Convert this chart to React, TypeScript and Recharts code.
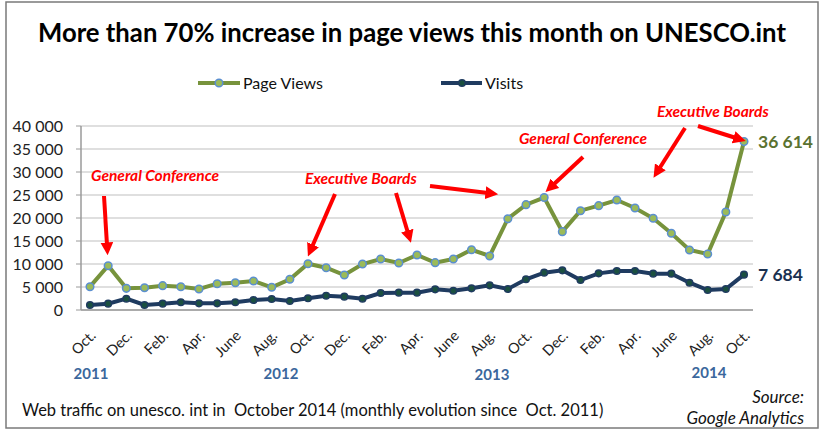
import React from 'react';
import { LineChart, Line, XAxis, YAxis, CartesianGrid, LabelList } from 'recharts';

const monthLabels = [
  'Oct.', 'Nov.', 'Dec.', 'Jan.', 'Feb.', 'Mar.', 'Apr.', 'May', 'June', 'July', 'Aug.', 'Sep.',
  'Oct.', 'Nov.', 'Dec.', 'Jan.', 'Feb.', 'Mar.', 'Apr.', 'May', 'June', 'July', 'Aug.', 'Sep.',
  'Oct.', 'Nov.', 'Dec.', 'Jan.', 'Feb.', 'Mar.', 'Apr.', 'May', 'June', 'July', 'Aug.', 'Sep.',
  'Oct.',
];

const pageViews = [
  5070, 9630, 4710, 4850, 5290, 5070, 4570, 5720, 5940, 6300, 4930, 6670,
  10070, 9200, 7610, 10000, 11090, 10220, 11960, 10290, 11090, 13100, 11740, 19850,
  22900, 24450, 17030, 21590, 22680, 23910, 22170, 19930, 16670, 13040, 12170, 21300,
  36614,
];

const visits = [
  1090, 1380, 2460, 1090, 1380, 1670, 1450, 1450, 1670, 2170, 2390, 1960,
  2540, 3110, 2900, 2460, 3700, 3770, 3770, 4490, 4200, 4710, 5360, 4565,
  6670, 8120, 8620, 6520, 7970, 8480, 8480, 7900, 7900, 5940, 4350, 4570,
  7684,
];

const yTicks = [0, 5000, 10000, 15000, 20000, 25000, 30000, 35000, 40000];
const boundaryTicks = Array.from({ length: monthLabels.length + 1 }, (_, i) => i);

const data = monthLabels.map((m, i) => ({
  label: i % 2 === 0 ? m : '',
  pageViews: pageViews[i],
  visits: visits[i],
}));

const FONT = "Lato, 'Noto Sans', sans-serif";
const OLIVE = '#77933c';
const NAVY = '#1f3b60';
const RED = '#ff0000';

const fmt = (v: number) => String(v).replace(/\B(?=(\d{3})+(?!\d))/g, ' ');

const XTick = (props: any) => {
  const { x, y, payload } = props;
  if (!payload || !payload.value) return null;
  const ax = x + 3;
  const ay = y + 15;
  return (
    <text
      x={ax}
      y={ay}
      transform={`rotate(-45 ${ax} ${ay})`}
      textAnchor="end"
      dy="0.35em"
      fontFamily={FONT}
      fontSize={14.5}
      fill="#222"
    >
      {payload.value}
    </text>
  );
};

const lastIdx = monthLabels.length - 1;

const EndLabel = (color: string) => (props: any) => {
  const { x, y, value, index } = props;
  if (index !== lastIdx) return null;
  return (
    <text x={x + 14} y={y} dy="0.35em" fontFamily={FONT} fontWeight={700} fontSize={17.5} fill={color}>
      {fmt(value)}
    </text>
  );
};

const arrows = [
  [104, 196, 107, 245],
  [335, 194, 312, 247],
  [396, 193, 408, 233],
  [430, 186, 488, 193],
  [583, 157, 553, 185],
  [685, 128, 659, 169],
  [698, 126, 736, 138],
];

export default function App() {
  return (
    <div style={{ position: 'absolute', left: 0, top: 0, width: 823, height: 429, background: '#fff' }}>
      <LineChart
        width={823}
        height={429}
        data={data}
        margin={{ top: 126, right: 70, bottom: 59, left: 0 }}
      >
        <CartesianGrid vertical={false} stroke="#d4d4d4" strokeWidth={1.5} />
        <XAxis
          xAxisId="grid"
          type="number"
          domain={[0, monthLabels.length]}
          ticks={boundaryTicks}
          tick={false}
          axisLine={false}
          tickLine={{ stroke: '#9a9a9a' }}
          tickSize={5}
          height={0}
        />
        <XAxis
          dataKey="label"
          interval={0}
          padding={{ left: 9, right: 9 }}
          tickLine={false}
          axisLine={{ stroke: '#9a9a9a', strokeWidth: 1.5 }}
          tick={<XTick />}
          height={60}
        />
        <YAxis
          width={81}
          domain={[0, 40000]}
          ticks={yTicks}
          tickFormatter={fmt}
          tickSize={5}
          tickMargin={13}
          axisLine={{ stroke: '#9a9a9a', strokeWidth: 1.5 }}
          tickLine={{ stroke: '#9a9a9a' }}
          tick={{ fontFamily: FONT, fontSize: 16, fill: '#222' }}
          interval={0}
        />
        <Line
          dataKey="pageViews"
          name="Page Views"
          stroke={OLIVE}
          strokeWidth={4}
          dot={{ r: 3.8, fill: '#9bbb59', stroke: '#5b8fd0', strokeWidth: 1.5 }}
          isAnimationActive={false}
        >
          <LabelList dataKey="pageViews" content={EndLabel('#5a7230')} />
        </Line>
        <Line
          dataKey="visits"
          name="Visits"
          stroke={NAVY}
          strokeWidth={4}
          dot={{ r: 3.3, fill: '#1b5040', stroke: NAVY, strokeWidth: 1.5 }}
          isAnimationActive={false}
        >
          <LabelList dataKey="visits" content={EndLabel('#1a3050')} />
        </Line>
      </LineChart>
      <svg
        width={823}
        height={429}
        style={{ position: 'absolute', left: 0, top: 0, pointerEvents: 'none' }}
      >
        <defs>
          <marker id="ah" viewBox="0 0 10 10" refX="2" refY="5" markerWidth="3.2" markerHeight="3.2" orient="auto">
            <path d="M0,0 L10,5 L0,10 z" fill={RED} />
          </marker>
        </defs>
        <rect x={6} y={2} width={812} height={426} fill="none" stroke="#7a7a7a" strokeWidth={1.5} />
        <text x={412} y={33} dy="0.35em" textAnchor="middle" fontFamily={FONT} fontWeight={700} fontSize={25.7} fill="#000">
          More than 70% increase in page views this month on UNESCO.int
        </text>
        <g>
          <line x1={198} y1={83} x2={240} y2={83} stroke={OLIVE} strokeWidth={4} />
          <circle cx={219} cy={83} r={3.8} fill="#9bbb59" stroke="#5b8fd0" strokeWidth={1.5} />
          <text x={243} y={83} dy="0.35em" fontFamily={FONT} fontSize={16} fill="#111">Page Views</text>
          <line x1={441} y1={83} x2={482} y2={83} stroke={NAVY} strokeWidth={4} />
          <circle cx={462} cy={83} r={3.3} fill="#1b5040" stroke={NAVY} strokeWidth={1.5} />
          <text x={485} y={83} dy="0.35em" fontFamily={FONT} fontSize={16} fill="#111">Visits</text>
        </g>
        {arrows.map((a, i) => (
          <line key={i} x1={a[0]} y1={a[1]} x2={a[2]} y2={a[3]} stroke={RED} strokeWidth={4} markerEnd="url(#ah)" />
        ))}
        <g fontFamily={FONT} fontWeight={700} fontStyle="italic" fontSize={15.5} fill={RED}>
          <text x={91} y={176} dy="0.35em">General Conference</text>
          <text x={305} y={179} dy="0.35em">Executive Boards</text>
          <text x={647} y={139} dy="0.35em" textAnchor="end">General Conference</text>
          <text x={657} y={112} dy="0.35em">Executive Boards</text>
        </g>
        <g fontFamily={FONT} fontWeight={700} fontSize={15} fill="#3b679c" textAnchor="middle">
          <text x={91} y={374} dy="0.35em">2011</text>
          <text x={281} y={374} dy="0.35em">2012</text>
          <text x={492} y={375} dy="0.35em">2013</text>
          <text x={709} y={373} dy="0.35em">2014</text>
        </g>
        <text x={22} y={410} dy="0.35em" fontFamily={FONT} fontSize={16.5} fill="#111" style={{ whiteSpace: 'pre' }}>
          {'Web traffic on unesco. int in  October 2014 (monthly evolution since  Oct. 2011)'}
        </text>
        <g fontFamily={FONT} fontStyle="italic" fontSize={17} fill="#111" textAnchor="end">
          <text x={804} y={397} dy="0.35em">Source:</text>
          <text x={804} y={418} dy="0.35em">Google Analytics</text>
        </g>
      </svg>
    </div>
  );
}
